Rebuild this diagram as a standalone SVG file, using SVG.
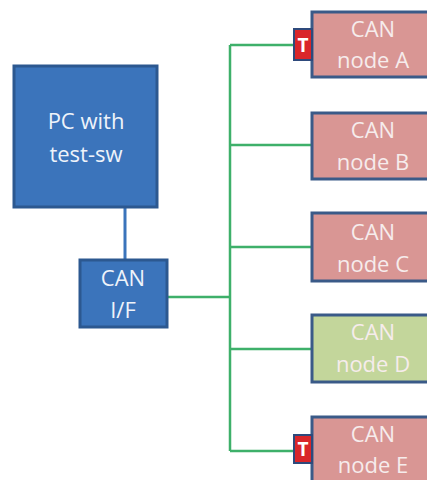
<svg xmlns="http://www.w3.org/2000/svg" width="427" height="480" viewBox="0 0 427 480">
<style>
.blue{fill:#3b74bb;stroke:#2c5890;stroke-width:3}
.pink{fill:#d99694;stroke:#3a5a88;stroke-width:3}
.greenn{fill:#c3d69b;stroke:#3a5a88;stroke-width:3}
.term{fill:#d9262a;stroke:#2e4a7c;stroke-width:2}
.t{font-family:"Open Sans","Liberation Sans",sans-serif;font-size:22px;fill:#f6ecec;text-anchor:middle}
.tw{font-family:"Open Sans","Liberation Sans",sans-serif;font-size:22px;fill:#eef3fa;text-anchor:middle}
.tt{font-family:"Open Sans","Liberation Sans",sans-serif;font-size:19px;font-weight:bold;fill:#ffffff;text-anchor:middle}
.bus{stroke:#3eb06a;stroke-width:2.5;fill:none}
.link{stroke:#3b74bb;stroke-width:3;fill:none}
</style>
<rect width="427" height="480" fill="#ffffff"/>
<g id="connectors">
<line class="link" x1="125" y1="207" x2="125" y2="260"/>
<line class="bus" x1="167" y1="297" x2="230" y2="297"/>
<line class="bus" x1="230" y1="45" x2="230" y2="451"/>
<line class="bus" x1="230" y1="45" x2="294" y2="45"/>
<line class="bus" x1="230" y1="145" x2="312" y2="145"/>
<line class="bus" x1="230" y1="247" x2="312" y2="247"/>
<line class="bus" x1="230" y1="349" x2="312" y2="349"/>
<line class="bus" x1="230" y1="451" x2="294" y2="451"/>
</g>
<g id="pc">
<rect class="blue" x="14" y="66" width="143" height="141"/>
<text class="tw" x="86" y="129">PC with</text>
<text class="tw" x="86" y="162">test-sw</text>
</g>
<g id="canif">
<rect class="blue" x="80" y="260" width="87" height="67"/>
<text class="tw" x="123" y="286">CAN</text>
<text class="tw" x="123" y="318">I/F</text>
</g>
<g id="nodeA">
<rect class="pink" x="312" y="12" width="122" height="65"/>
<text class="t" x="373" y="37">CAN</text>
<text class="t" x="373" y="68">node A</text>
</g>
<g id="termA">
<rect class="term" x="294" y="29" width="18" height="31"/>
<text class="tt" x="303" y="52">T</text>
</g>
<g id="nodeB">
<rect class="pink" x="312" y="113" width="122" height="66"/>
<text class="t" x="373" y="138">CAN</text>
<text class="t" x="373" y="170">node B</text>
</g>
<g id="nodeC">
<rect class="pink" x="312" y="213" width="122" height="68"/>
<text class="t" x="373" y="240">CAN</text>
<text class="t" x="373" y="272">node C</text>
</g>
<g id="nodeD">
<rect class="greenn" x="312" y="315" width="122" height="67"/>
<text class="t" x="373" y="340">CAN</text>
<text class="t" x="373" y="372">node D</text>
</g>
<g id="nodeE">
<rect class="pink" x="312" y="417" width="122" height="70"/>
<text class="t" x="373" y="442">CAN</text>
<text class="t" x="373" y="473">node E</text>
</g>
<g id="termE">
<rect class="term" x="294" y="435" width="18" height="28"/>
<text class="tt" x="303" y="456">T</text>
</g>
</svg>
